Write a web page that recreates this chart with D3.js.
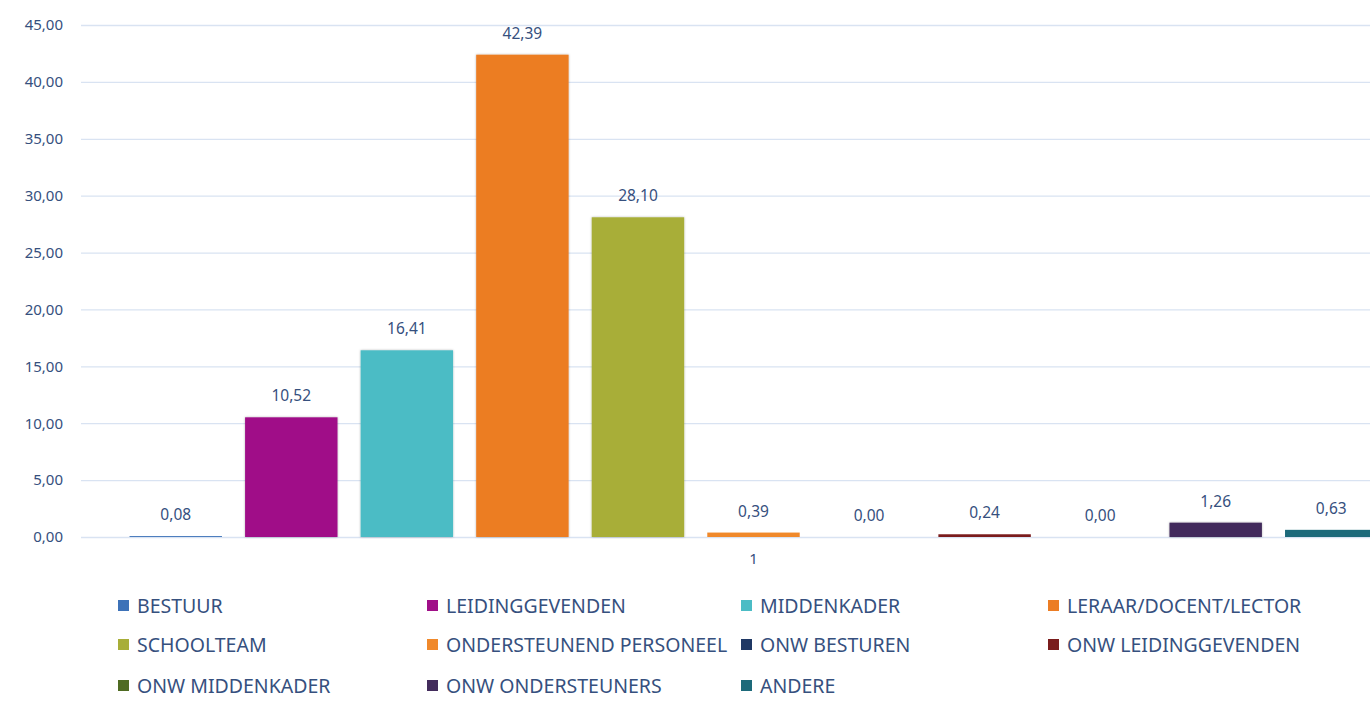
<!DOCTYPE html>
<html>
<head>
<meta charset="utf-8">
<script src="https://cdn.jsdelivr.net/npm/d3@7"></script>
<style>
  html, body { margin: 0; padding: 0; background: #fff; overflow: hidden; }
  text { font-family: "Noto Sans", "Open Sans", sans-serif; }
</style>
</head>
<body>
<div id="chart"></div>
<script>
// categories (one cluster "1", one bar per series)
var series = ["BESTUUR", "LEIDINGGEVENDEN", "MIDDENKADER", "LERAAR/DOCENT/LECTOR",
  "SCHOOLTEAM", "ONDERSTEUNEND PERSONEEL", "ONW BESTUREN", "ONW LEIDINGGEVENDEN",
  "ONW MIDDENKADER", "ONW ONDERSTEUNERS", "ANDERE"];
var values = [0.08, 10.52, 16.41, 42.39, 28.10, 0.39, 0.00, 0.24, 0.00, 1.26, 0.63];
var colors = ["#3d72b8", "#a00f88", "#4bbcc5", "#ec7d24", "#a8ae38", "#f0892b",
  "#1f3864", "#7a1c1c", "#4f6b22", "#432c5c", "#1d6a7a"];
var categories = ["1"];
var yTicks = [0, 5, 10, 15, 20, 25, 30, 35, 40, 45];

var width = 1370, height = 708;
var textColor = "#36507e";
var fmt = function(v) { return d3.format(".2f")(v).replace(".", ","); };

var svg = d3.select("#chart")
  .append("svg")
    .attr("width", width)
    .attr("height", height);

// y scale
var yScale = d3.scaleLinear()
  .domain([0, 45])
  .range([537, 25]);

// x scale: plot area runs past the right edge (picture is cropped)
var plotLeft = 81, plotRight = 1426;
var xCat = d3.scaleBand()
  .domain(categories)
  .range([plotLeft, plotRight]);
var xScale = d3.scaleBand()
  .domain(series)
  .range([plotLeft, plotRight])
  .paddingInner(0.2)
  .paddingOuter(0.42);

// gridlines
svg.append("g")
  .selectAll("line")
  .data(yTicks)
  .enter().append("line")
    .attr("x1", plotLeft)
    .attr("x2", plotRight)
    .attr("y1", function(d) { return yScale(d) + 0.5; })
    .attr("y2", function(d) { return yScale(d) + 0.5; })
    .attr("stroke", "#d9e3f2")
    .attr("stroke-width", 1.3);

// y axis labels
var yAxis = svg.append("g")
  .attr("transform", "translate(" + (plotLeft - 18) + ",0)")
  .call(d3.axisLeft(yScale).tickValues(yTicks).tickFormat(fmt).tickSize(0).tickPadding(0));
yAxis.select(".domain").remove();
yAxis.selectAll("text")
  .attr("fill", textColor)
  .style("font-size", "15px")
  .style("font-family", "'Noto Sans', sans-serif");

// x axis label
var xAxis = svg.append("g")
  .attr("transform", "translate(0," + 537 + ")")
  .call(d3.axisBottom(xCat).tickSize(0).tickPadding(16));
xAxis.select(".domain").remove();
xAxis.selectAll("text")
  .attr("fill", textColor)
  .style("font-size", "15px")
  .style("font-family", "'Noto Sans', sans-serif");

// shadow filter
var defs = svg.append("defs");
var f = defs.append("filter").attr("id", "shadow")
  .attr("x", "-10%").attr("y", "-10%").attr("width", "120%").attr("height", "120%");
f.append("feDropShadow").attr("dx", 0).attr("dy", 0).attr("stdDeviation", 1.2)
  .attr("flood-color", "#000").attr("flood-opacity", 0.3);

// bars
svg.append("g")
  .selectAll("rect")
  .data(values)
  .enter().append("rect")
    .attr("x", function(d, i) { return xScale(series[i]); })
    .attr("width", xScale.bandwidth())
    .attr("y", function(d) { return yScale(d); })
    .attr("height", function(d) { return yScale(0) - yScale(d); })
    .attr("fill", function(d, i) { return colors[i]; })
    .attr("filter", function(d) { return d > 1 ? "url(#shadow)" : null; });

// data labels
svg.append("g")
  .selectAll("text")
  .data(values)
  .enter().append("text")
    .attr("x", function(d, i) { return xScale(series[i]) + xScale.bandwidth() / 2; })
    .attr("y", function(d) { return yScale(d) - 16; })
    .attr("text-anchor", "middle")
    .attr("fill", textColor)
    .style("font-size", "15.5px")
    .text(fmt);

// legend: 4 columns, 3 rows
var legendCols = [118, 427, 741, 1048];
var legendRows = [606, 645, 686];
var legend = svg.append("g")
  .selectAll("g")
  .data(series)
  .enter().append("g")
    .attr("transform", function(d, i) {
      return "translate(" + legendCols[i % 4] + "," + legendRows[Math.floor(i / 4)] + ")";
    });
legend.append("rect")
  .attr("x", 0).attr("y", -6)
  .attr("width", 11).attr("height", 11)
  .attr("fill", function(d, i) { return colors[i]; });
legend.append("text")
  .attr("x", 19)
  .attr("y", 0)
  .attr("dy", "0.36em")
  .attr("fill", textColor)
  .style("font-size", "19.5px")
  .text(function(d) { return d; });
</script>
</body>
</html>
